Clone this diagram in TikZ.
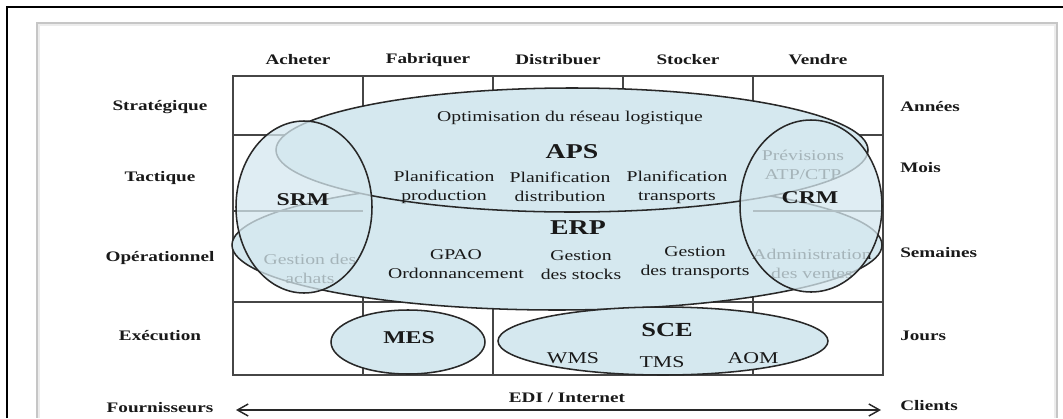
\documentclass[tikz,border=0pt]{standalone}
\usepackage{fontspec}
\setmainfont{Liberation Serif}[FakeStretch=1.32]
\usetikzlibrary{shapes.geometric,arrows.meta}
\definecolor{skyfill}{RGB}{213,232,239}
\definecolor{inkline}{RGB}{40,40,40}
\definecolor{gridline}{RGB}{70,70,70}
\definecolor{txt}{RGB}{25,25,25}
\begin{document}
\begin{tikzpicture}[x=0.75pt,y=-0.75pt,
  blob/.style={ellipse, draw=inkline, line width=1.15pt, fill=skyfill, inner sep=0pt, outer sep=0pt},
  veil/.style={blob, fill opacity=0.75},
  gridl/.style={draw=gridline, line width=1pt},
  axislbl/.style={font=\bfseries\fontsize{10.9}{13}\selectfont, text=txt, inner sep=0pt},
  inner/.style={font=\fontsize{11.2}{14.2}\selectfont, text=txt, align=center, inner sep=0pt},
  bigtag/.style={font=\bfseries\fontsize{15.8}{18}\selectfont, text=txt, inner sep=0pt},
  midtag/.style={font=\bfseries\fontsize{13.5}{16}\selectfont, text=txt, inner sep=0pt},
  small/.style={font=\fontsize{12.4}{14}\selectfont, text=txt, inner sep=0pt},
  edi/.style={draw=inkline, line width=1.1pt, {Straight Barb[length=8pt,width=9pt]}-{Straight Barb[length=8pt,width=9pt]}}
]
\useasboundingbox (0,0) rectangle (1063,418);

% page frame
\fill[white] (0,0) rectangle (1063,418);
\draw[black, line width=1.6pt] (7,418) -- (7,7) -- (1063,7);
\fill[gray!45] (36,22) rectangle (1058,418);
\fill[gray!15] (38,24) rectangle (1056,418);
\fill[white] (40,26) rectangle (1054,418);

% table
\draw[gridl] (233,76) rectangle (883,375);
\foreach \cx in {363,493,623,753} \draw[gridl] (\cx,76) -- (\cx,375);
\foreach \ry in {135,211,302} \draw[gridl] (233,\ry) -- (883,\ry);

% column headers
\node[axislbl] (hA) at (298,60) {Acheter};
\node[axislbl] (hF) at (428,60) {Fabriquer};
\node[axislbl] (hD) at (558,60) {Distribuer};
\node[axislbl] (hS) at (688,60) {Stocker};
\node[axislbl] (hV) at (818,60) {Vendre};

% horizon rows
\node[axislbl] (lS) at (160,107) {Stratégique};
\node[axislbl] (lT) at (160,178) {Tactique};
\node[axislbl] (lO) at (160,258) {Opérationnel};
\node[axislbl] (lE) at (160,336) {Exécution};
\node[axislbl] (lF) at (160,408) {Fournisseurs};

\node[axislbl, anchor=west] (rA) at (900,107) {Années};
\node[axislbl, anchor=west] (rM) at (900,168) {Mois};
\node[axislbl, anchor=west] (rS) at (900,253) {Semaines};
\node[axislbl, anchor=west] (rJ) at (900,336) {Jours};
\node[axislbl, anchor=west] (rC) at (900,406) {Clients};

% ERP and APS layers
\node[blob, minimum width=487.5pt, minimum height=97.5pt] (erp) at (557,245) {};
\node[blob, minimum width=444pt, minimum height=93pt] (aps) at (572,150) {};

% row line of the tactical/operational border in the outer columns
\draw[gridl] (233,211) -- (363,211);
\draw[gridl] (753,211) -- (883,211);

% texts below the SRM / CRM veils
\node[inner] (gach) at (310,269) {Gestion des\\achats};
\node[inner] (prev) at (803,165) {Prévisions\\ATP/CTP};
\node[inner] (adm) at (812,264) {Administration\\des ventes};

% SRM and CRM veils
\node[veil, minimum width=102pt, minimum height=129pt] (srm) at (304,207) {};
\node[veil, minimum width=106.5pt, minimum height=129pt] (crm) at (811,206) {};

% execution layer
\node[blob, minimum width=115.5pt, minimum height=48pt] (mes) at (408,342) {};
\node[blob, minimum width=247.5pt, minimum height=51pt] (sce) at (663,341) {};

% labels
\node[inner] (opt) at (570,118) {Optimisation du réseau logistique};
\node[bigtag] (tAPS) at (572,152) {APS};
\node[inner] (pp) at (444,187) {Planification\\production};
\node[inner] (pd) at (560,187) {Planification\\distribution};
\node[inner] (pt) at (677,187) {Planification\\transports};

\node[bigtag] (tERP) at (578,228) {ERP};
\node[inner] (gpao) at (456,264) {GPAO\\Ordonnancement};
\node[inner] (gst) at (581,265) {Gestion\\des stocks};
\node[inner] (gtr) at (695,263) {Gestion\\des transports};

\node[midtag] (tSRM) at (303,200) {SRM};
\node[midtag] (tCRM) at (810,198) {CRM};

\node[midtag] (tMES) at (409,338) {MES};
\node[bigtag, font=\bfseries\fontsize{15}{18}\selectfont] (tSCE) at (667,330) {SCE};
\node[small] (wms) at (573,358) {WMS};
\node[small] (tms) at (662,362) {TMS};
\node[small] (aom) at (753,358) {AOM};

% EDI link
\coordinate (ediL) at (236,410);
\coordinate (ediR) at (881,410);
\draw[edi] (ediL) -- (ediR);
\node[axislbl] (tEDI) at (567,398) {EDI / Internet};
\end{tikzpicture}
\end{document}
